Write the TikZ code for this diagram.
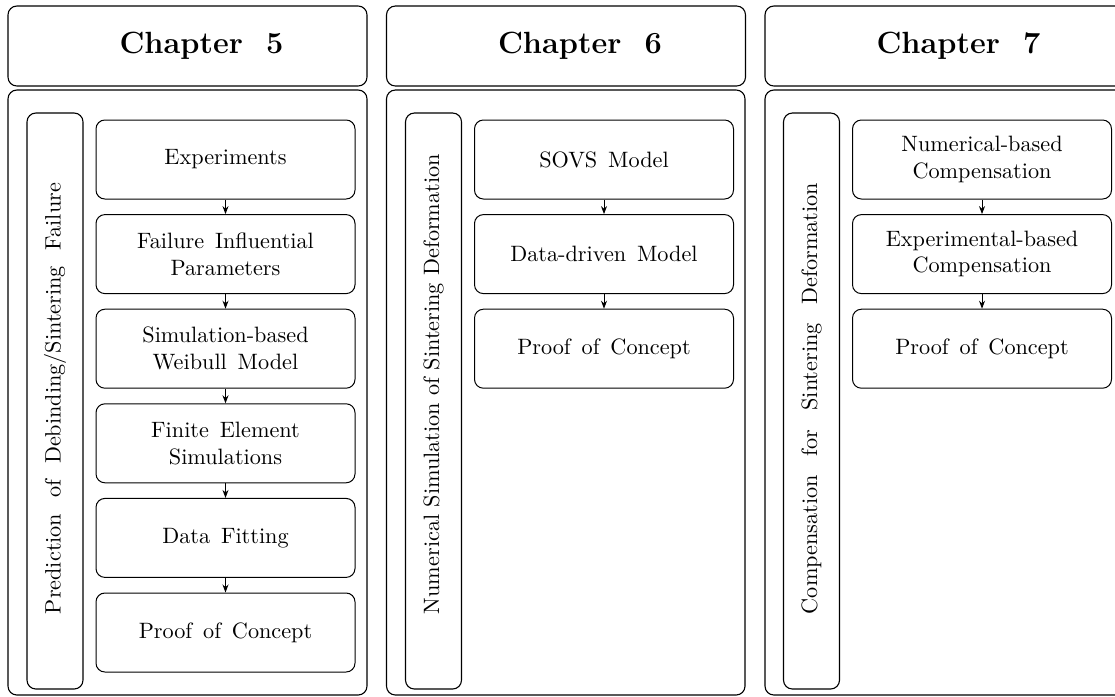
\documentclass[tikz,border=0pt]{standalone}
\usetikzlibrary{arrows.meta}
\begin{document}
\begin{tikzpicture}[x=0.45pt,y=-0.45pt,
  frame/.style={draw, line width=0.5pt, rounded corners=4pt},
  stepbox/.style={draw, line width=0.45pt, rounded corners=4pt, minimum width=259*0.45pt,
    minimum height=79*0.45pt, inner sep=0pt, align=center,
    font={\spaceskip=4.9pt plus 1pt minus 1pt}},
  vtext/.style={rotate=90, anchor=west, inner sep=0pt},
  chap/.style={anchor=base, inner sep=0pt, font=\fontsize{13.8}{16}\selectfont\bfseries},
  arr/.style={-{Stealth[length=3.6pt,width=2.7pt]}, line width=0.45pt}]
\useasboundingbox (0,0) rectangle (1115,696);
\clip (0,0) rectangle (1115,696);

% ---------- Column 1 ----------
\draw[frame] (8,6) rectangle (367,86);
\node[chap] (c5) at (201.5,53) {Chapter\hspace{10.5pt}5};
\draw[frame] (8,90) rectangle (367,695);
\draw[frame] (27,113) rectangle (83,689);
\node[vtext] (v1) at (55,614.5) {\makebox[194pt][s]{Prediction of Debinding/Sintering Failure}};
\node[stepbox] (a1) at (225.5,159.5) {Experiments};
\node[stepbox] (a2) at (225.5,254.1) {Failure Influential\\Parameters};
\node[stepbox] (a3) at (225.5,348.7) {Simulation-based\\Weibull Model};
\node[stepbox] (a4) at (225.5,443.3) {Finite Element\\Simulations};
\node[stepbox] (a5) at (225.5,537.9) {Data Fitting};
\node[stepbox] (a6) at (225.5,632.5) {Proof of Concept};
\draw[arr] (a1) -- (a2);
\draw[arr] (a2) -- (a3);
\draw[arr] (a3) -- (a4);
\draw[arr] (a4) -- (a5);
\draw[arr] (a5) -- (a6);

% ---------- Column 2 ----------
\draw[frame] (386.5,6) rectangle (745.5,86);
\node[chap] (c6) at (580,53) {Chapter\hspace{10.5pt}6};
\draw[frame] (386.5,90) rectangle (745,695);
\draw[frame] (405.5,113) rectangle (461.5,689);
\node[vtext] (v2) at (433.5,614.5) {Numerical Simulation of Sintering Deformation};
\node[stepbox] (b1) at (604,159.5) {SOVS Model};
\node[stepbox] (b2) at (604,254.1) {Data-driven Model};
\node[stepbox] (b3) at (604,348.7) {Proof of Concept};
\draw[arr] (b1) -- (b2);
\draw[arr] (b2) -- (b3);

% ---------- Column 3 ----------
\draw[frame] (765,6) rectangle (1124,86);
\node[chap] (c7) at (958.5,53) {Chapter\hspace{10.5pt}7};
\draw[frame] (765,90) rectangle (1124,695);
\draw[frame] (783.5,113) rectangle (839.5,689);
\node[vtext] (v3) at (811.5,614.5) {\makebox[194pt][s]{Compensation for Sintering Deformation}};
\node[stepbox] (d1) at (982,159.5) {Numerical-based\\Compensation};
\node[stepbox] (d2) at (982,254.1) {Experimental-based\\Compensation};
\node[stepbox] (d3) at (982,348.7) {Proof of Concept};
\draw[arr] (d1) -- (d2);
\draw[arr] (d2) -- (d3);
\end{tikzpicture}
\end{document}
